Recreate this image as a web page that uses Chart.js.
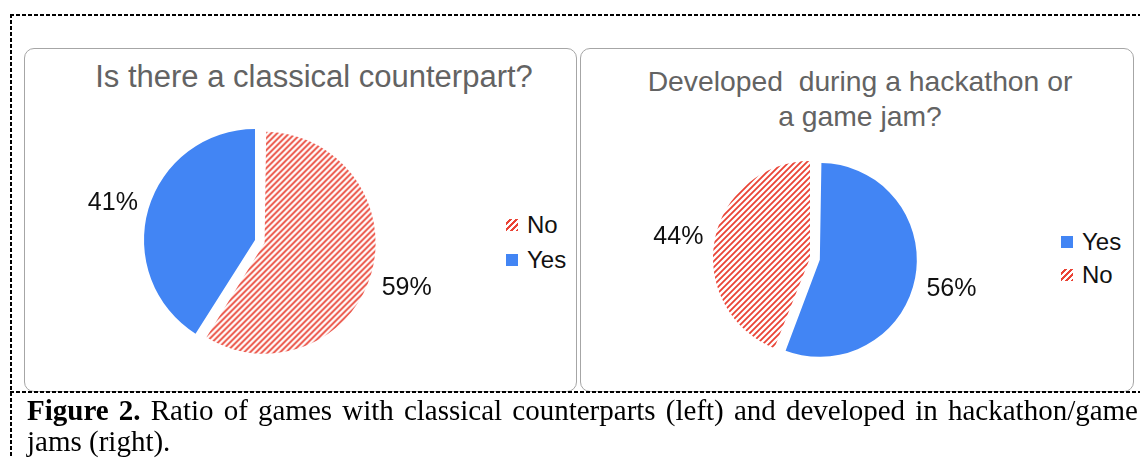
<!DOCTYPE html>
<html>
<head>
<meta charset="utf-8">
<script src="https://cdn.jsdelivr.net/npm/chart.js@4"></script>
<style>
  body { margin: 0; width: 1140px; height: 458px; overflow: hidden; background: #fff; position: relative;
         font-family: "Liberation Sans", Arial, sans-serif; }
  .abs { position: absolute; }
  .dash-h { height: 2px; background: repeating-linear-gradient(90deg, #000 0 4px, transparent 4px 6px); }
  .dash-v { width: 2px; background: repeating-linear-gradient(180deg, #000 0 4px, transparent 4px 6px); }
  .panel { border: 1px solid #a6a6a6; border-radius: 10px; box-sizing: border-box; background: #fff; }
  .title { color: #636363; text-align: center; white-space: pre; }
  .leg { display: flex; align-items: center; font-size: 24px; color: #111; height: 30px; }
  .leg span.box { width: 12px; height: 12px; margin-right: 9px; }
  .caption { font-family: "Liberation Serif", "Times New Roman", serif; font-size: 29px; line-height: 31px; color: #000; }
  .caption div { white-space: nowrap; }
</style>
</head>
<body>
<div class="abs dash-h" style="left:10px; top:14px; width:1130px;"></div>
<div class="abs dash-v" style="left:10px; top:14px; height:444px;"></div>

<div class="abs panel" style="left:24px; top:48px; width:553px; height:344px;"></div>
<div class="abs panel" style="left:580px; top:48px; width:554px; height:344px;"></div>
<div class="abs dash-h" style="left:10px; top:391px; width:1130px;"></div>

<div id="leftTitle" class="abs title" style="left:14px; top:60px; width:600px; font-size:31px; line-height:34px;"></div>
<div id="rightTitle" class="abs title" style="left:560px; top:64px; width:600px; font-size:28.3px; line-height:35px;"></div>

<canvas id="leftPie" class="abs" width="400" height="310" style="left:55px; top:85px;"></canvas>
<canvas id="rightPie" class="abs" width="400" height="290" style="left:610px; top:113px;"></canvas>

<div id="leftLegend" class="abs" style="left:506px; top:210px;"></div>
<div id="rightLegend" class="abs" style="left:1061px; top:227px;"></div>

<div class="abs caption" style="left:27px; top:395px; width:1111px;">
  <div style="text-align:justify; text-align-last:justify;"><b>Figure 2.</b> Ratio of games with classical counterparts (left) and developed in hackathon/game</div>
  <div>jams (right).</div>
</div>

<script>
// chart data
const leftTitle = "Is there a classical counterpart?";
const leftLabels = ["No", "Yes"];
const leftValues = [59, 41];

const rightTitle = ["Developed  during a hackathon or", "a game jam?"];
const rightLabels = ["Yes", "No"];
const rightValues = [56, 44];

const BLUE = "#4285f4";
const RED = "#ea4335";

document.getElementById("leftTitle").textContent = leftTitle;
document.getElementById("rightTitle").textContent = rightTitle.join("\n");

// red diagonal stripes like excel's "wide upward diagonal"
function hatchPattern(ctx) {
  const c = document.createElement("canvas");
  c.width = 6; c.height = 6;
  const g = c.getContext("2d");
  g.fillStyle = "#fff";
  g.fillRect(0, 0, 6, 6);
  g.strokeStyle = RED;
  g.lineWidth = 1.8;
  g.beginPath();
  g.moveTo(0, 6); g.lineTo(6, 0);
  g.moveTo(-1, 1); g.lineTo(1, -1);
  g.moveTo(5, 7); g.lineTo(7, 5);
  g.stroke();
  return ctx.createPattern(c, "repeat");
}
const HATCH_CSS = "repeating-linear-gradient(-45deg, " + RED + " 0 1.6px, #fff 1.6px 4.2px)";

// chart.js v4 draws an arc's offset at a quarter of its value
const EXPLODE = 40;

// v4 also grows an exploded arc's radius by that offset, take it back off
const keepRadius = {
  id: "keepRadius",
  afterDatasetsUpdate(chart) {
    chart.getDatasetMeta(0).data.forEach(arc => {
      const off = (arc.options.offset || 0) / 4;
      const circ = arc.endAngle - arc.startAngle;
      const fix = 1 - Math.sin(Math.min(Math.PI, circ));
      arc.outerRadius = chart.options.radius - off * fix;
    });
  }
};

// percent labels outside the slices
const outsideLabels = {
  id: "outsideLabels",
  afterDatasetsDraw(chart) {
    const ctx = chart.ctx;
    const meta = chart.getDatasetMeta(0);
    const data = chart.data.datasets[0].data;
    ctx.save();
    ctx.font = "25px 'Liberation Sans', Arial, sans-serif";
    ctx.fillStyle = "#111";
    ctx.textAlign = "center";
    ctx.textBaseline = "middle";
    meta.data.forEach((arc, i) => {
      const p = arc.getProps(["x", "y", "startAngle", "endAngle"], true);
      const mid = (p.startAngle + p.endAngle) / 2;
      const d = chart.options.radius + (arc.options.offset || 0) / 4 + 37;
      ctx.fillText(data[i] + "%", p.x + Math.cos(mid) * d, p.y + Math.sin(mid) * d + 4);
    });
    ctx.restore();
  }
};

function makePie(id, labels, values, colors, offsets, radius) {
  const ctx = document.getElementById(id).getContext("2d");
  return new Chart(ctx, {
    type: "pie",
    data: {
      labels: labels,
      datasets: [{
        data: values,
        backgroundColor: colors,
        borderWidth: 0,
        offset: offsets,
        hoverOffset: 0
      }]
    },
    options: {
      responsive: false,
      animation: false,
      radius: radius,
      events: [],
      layout: { padding: 0 },
      plugins: {
        legend: { display: false },
        tooltip: { enabled: false },
        title: { display: false }
      }
    },
    plugins: [keepRadius, outsideLabels]
  });
}

function makeLegend(id, labels, colors) {
  const el = document.getElementById(id);
  labels.forEach((lab, i) => {
    const row = document.createElement("div");
    row.className = "leg";
    const box = document.createElement("span");
    box.className = "box";
    box.style.background = colors[i];
    const txt = document.createElement("span");
    txt.textContent = lab;
    row.appendChild(box);
    row.appendChild(txt);
    el.appendChild(row);
  });
}

document.addEventListener("DOMContentLoaded", function () {
  const lctx = document.getElementById("leftPie").getContext("2d");
  const rctx = document.getElementById("rightPie").getContext("2d");

  makePie("leftPie", leftLabels, leftValues, [hatchPattern(lctx), BLUE], [EXPLODE, 0], 111);
  makePie("rightPie", rightLabels, rightValues, [BLUE, hatchPattern(rctx)], [EXPLODE, 0], 97);

  makeLegend("leftLegend", leftLabels, [HATCH_CSS, BLUE]);
  makeLegend("rightLegend", rightLabels, [BLUE, HATCH_CSS]);
  document.querySelectorAll("#leftLegend .leg")[1].style.marginTop = "5px";
  document.querySelectorAll("#rightLegend .leg")[1].style.marginTop = "3px";
});
</script>
</body>
</html>
